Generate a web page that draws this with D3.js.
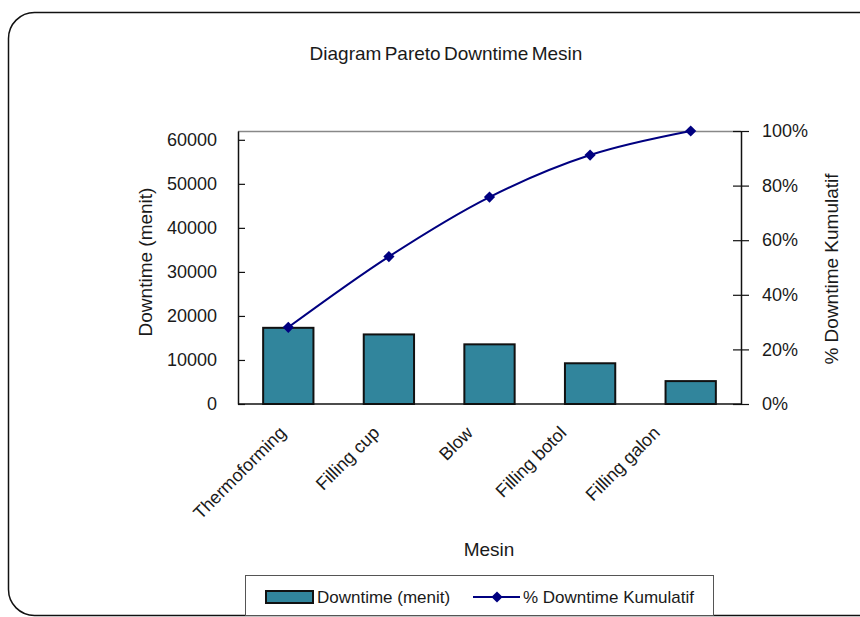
<!DOCTYPE html>
<html>
<head>
<meta charset="utf-8">
<script src="https://cdn.jsdelivr.net/npm/d3@7"></script>
<style>
  body { margin: 0; background: #fff; }
  svg text { font-family: "Liberation Sans", Arial, sans-serif; fill: #1a1a1a; }
</style>
</head>
<body>
<script>
// data
var categories = ["Thermoforming", "Filling cup", "Blow", "Filling botol", "Filling galon"];
var downtime = [17300, 15800, 13550, 9250, 5200];
var cumulativePct = [28.1, 54, 75.8, 91.2, 100];
var leftTicks = [0, 10000, 20000, 30000, 40000, 50000, 60000];
var rightTicks = [0, 20, 40, 60, 80, 100];
var leftMax = 62000;

var W = 860, H = 617;
var plotLeft = 238, plotRight = 741, plotTop = 131, plotBottom = 404;

var svg = d3.select("body").append("svg")
    .attr("width", W)
    .attr("height", H);

// outer rounded frame
svg.append("rect")
    .attr("x", 8.5).attr("y", 12.5)
    .attr("width", 890).attr("height", 603)
    .attr("rx", 26).attr("ry", 26)
    .attr("fill", "#fff")
    .attr("stroke", "#111")
    .attr("stroke-width", 1.5);

var xScale = d3.scaleBand()
    .domain(categories)
    .range([plotLeft, plotRight])
    .paddingInner(0.5)
    .paddingOuter(0.25);

// the rotated labels sit a bit tighter than the bars
var labelScale = d3.scalePoint()
    .domain(categories)
    .range([287, 661]);

var yLeft = d3.scaleLinear().domain([0, leftMax]).range([plotBottom, plotTop]);
var yRight = d3.scaleLinear().domain([0, 100]).range([plotBottom, plotTop]);

// title
svg.append("text")
    .attr("x", 446).attr("y", 60)
    .attr("text-anchor", "middle")
    .attr("font-size", "19px")
    .attr("word-spacing", "-2px")
    .text("Diagram Pareto Downtime Mesin");

// plot area top border
svg.append("line")
    .attr("x1", plotLeft).attr("x2", plotRight)
    .attr("y1", plotTop + 0.5).attr("y2", plotTop + 0.5)
    .attr("stroke", "#888").attr("stroke-width", 1.5);

// bars
svg.selectAll("rect.bar")
    .data(downtime)
    .enter()
    .append("rect")
    .attr("class", "bar")
    .attr("x", function(d, i) { return xScale(categories[i]); })
    .attr("y", function(d) { return yLeft(d); })
    .attr("width", xScale.bandwidth())
    .attr("height", function(d) { return plotBottom - yLeft(d); })
    .attr("fill", "#31859c")
    .attr("stroke", "#111")
    .attr("stroke-width", 2);

// left axis (ticks inward)
var axisL = d3.axisLeft(yLeft)
    .tickValues(leftTicks)
    .tickFormat(d3.format("d"))
    .tickSizeInner(-7)
    .tickSizeOuter(0)
    .tickPadding(21);
svg.append("g")
    .attr("transform", "translate(" + plotLeft + ",0)")
    .call(axisL)
    .call(function(g) {
        g.select(".domain").attr("stroke", "#111").attr("stroke-width", 1.5);
        g.selectAll(".tick line").attr("stroke", "#111").attr("stroke-width", 1.2);
        g.selectAll(".tick text").attr("font-size", "18px").attr("fill", "#1a1a1a")
            .attr("font-family", "Liberation Sans, Arial, sans-serif");
    });

// right axis (cross ticks)
var axisR = d3.axisRight(yRight)
    .tickValues(rightTicks)
    .tickFormat(function(d) { return d + "%"; })
    .tickSizeInner(8)
    .tickSizeOuter(0)
    .tickPadding(13);
svg.append("g")
    .attr("transform", "translate(" + plotRight + ",0)")
    .call(axisR)
    .call(function(g) {
        g.select(".domain").attr("stroke", "#111").attr("stroke-width", 1.5);
        g.selectAll(".tick line").attr("x1", -8).attr("stroke", "#111").attr("stroke-width", 1.2);
        g.selectAll(".tick text").attr("font-size", "18px").attr("fill", "#1a1a1a")
            .attr("font-family", "Liberation Sans, Arial, sans-serif");
    });

// x axis line
svg.append("line")
    .attr("x1", plotLeft).attr("x2", plotRight)
    .attr("y1", plotBottom).attr("y2", plotBottom)
    .attr("stroke", "#111").attr("stroke-width", 1.5);

// x labels rotated
svg.selectAll("text.xlab")
    .data(categories)
    .enter()
    .append("text")
    .attr("class", "xlab")
    .attr("text-anchor", "end")
    .attr("font-size", "18px")
    .attr("transform", function(d) {
        return "translate(" + labelScale(d) + "," + 434 + ") rotate(-45)";
    })
    .text(function(d) { return d; });

// cumulative line
var line = d3.line()
    .x(function(d, i) { return xScale(categories[i]) + xScale.bandwidth() / 2; })
    .y(function(d) { return yRight(d); })
    .curve(d3.curveCatmullRom.alpha(0.5));

svg.append("path")
    .datum(cumulativePct)
    .attr("d", line)
    .attr("fill", "none")
    .attr("stroke", "#000080")
    .attr("stroke-width", 2);

var diamond = d3.symbol().type(d3.symbolDiamond2).size(80);
svg.selectAll("path.mark")
    .data(cumulativePct)
    .enter()
    .append("path")
    .attr("class", "mark")
    .attr("d", diamond)
    .attr("transform", function(d, i) {
        return "translate(" + (xScale(categories[i]) + xScale.bandwidth() / 2) + "," + yRight(d) + ")";
    })
    .attr("fill", "#000080");

// axis titles
svg.append("text")
    .attr("transform", "translate(152,262) rotate(-90)")
    .attr("text-anchor", "middle")
    .attr("font-size", "19px")
    .text("Downtime (menit)");

svg.append("text")
    .attr("transform", "translate(838,269) rotate(-90)")
    .attr("text-anchor", "middle")
    .attr("font-size", "19px")
    .text("% Downtime Kumulatif");

svg.append("text")
    .attr("x", 489).attr("y", 556)
    .attr("text-anchor", "middle")
    .attr("font-size", "19px")
    .text("Mesin");

// legend
var lg = svg.append("g");
lg.append("rect")
    .attr("x", 245.5).attr("y", 575.5)
    .attr("width", 468).attr("height", 40)
    .attr("fill", "#fff")
    .attr("stroke", "#555").attr("stroke-width", 1);
lg.append("rect")
    .attr("x", 266).attr("y", 591)
    .attr("width", 47).attr("height", 12)
    .attr("fill", "#31859c")
    .attr("stroke", "#111").attr("stroke-width", 2);
lg.append("text")
    .attr("x", 317).attr("y", 603)
    .attr("font-size", "17px")
    .text("Downtime (menit)");
lg.append("line")
    .attr("x1", 473).attr("x2", 520)
    .attr("y1", 597).attr("y2", 597)
    .attr("stroke", "#000080").attr("stroke-width", 2);
lg.append("path")
    .attr("d", diamond)
    .attr("transform", "translate(497,597)")
    .attr("fill", "#000080");
lg.append("text")
    .attr("x", 523).attr("y", 603)
    .attr("font-size", "17px")
    .text("% Downtime Kumulatif");
</script>
</body>
</html>
